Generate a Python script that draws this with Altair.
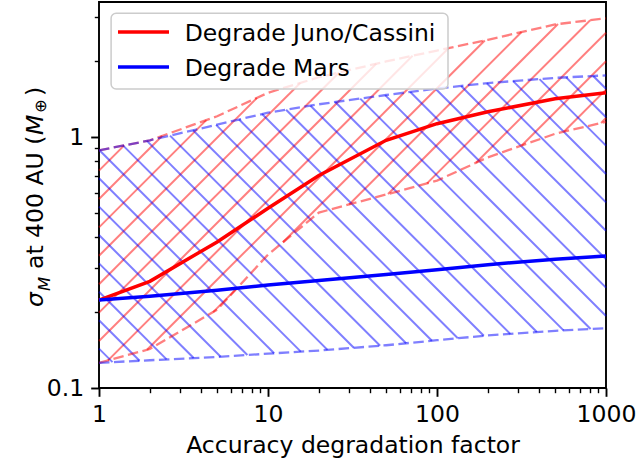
import altair as alt
import numpy as np
import pandas as pd

# ---------------- data ----------------
x_vals = [1, 2, 5, 10, 20, 50, 100, 200, 500, 1000]
juno_mid = [0.224, 0.266, 0.382, 0.52, 0.703, 0.97, 1.13, 1.26, 1.42, 1.50]
juno_low = [0.126, 0.143, 0.205, 0.34, 0.50, 0.59, 0.67, 0.83, 1.03, 1.15]
juno_up = [0.885, 0.97, 1.21, 1.50, 1.73, 2.0, 2.21, 2.44, 2.81, 2.97]
mars_mid = [0.224, 0.232, 0.245, 0.257, 0.268, 0.283, 0.296, 0.31, 0.326, 0.336]
mars_low = [0.126, 0.129, 0.133, 0.137, 0.141, 0.148, 0.155, 0.162, 0.169, 0.173]
mars_up = [0.885, 0.97, 1.12, 1.25, 1.35, 1.47, 1.56, 1.64, 1.72, 1.76]
series_names = ["Degrade Juno/Cassini", "Degrade Mars"]
x_ticks = [1, 2, 3, 4, 5, 6, 7, 8, 9, 10, 20, 30, 40, 50, 60, 70, 80, 90,
           100, 200, 300, 400, 500, 600, 700, 800, 900, 1000]
y_ticks = [0.1, 0.2, 0.3, 0.4, 0.5, 0.6, 0.7, 0.8, 0.9, 1, 2, 3]
x_title = "Accuracy degradation factor"
y_title_parts = ["σ", "M", "at 400 AU (", "M", "⊕", ")"]

# ---------------- geometry / style ----------------
W, H = 507, 386
PAD_L, PAD_T, PAD_R, PAD_B = 99, 2, 32, 72
X_MIN, X_MAX = 1, 1000
Y_MIN = 0.1
DX = W / np.log10(X_MAX / X_MIN)
DY = 251.0
Y_MAX = Y_MIN * 10 ** (H / DY)
FONT = "DejaVu Sans"
FS = 23.5
RED, BLUE = "#ff0000", "#0000ff"
HATCH_STEP = 28.4

DECADE = "abs(log(datum.value)/LN10 - round(log(datum.value)/LN10)) < 0.001"


def to_uv(xs, ys):
    u = DX * np.log10(np.asarray(xs, float) / X_MIN)
    v = H - DY * np.log10(np.asarray(ys, float) / Y_MIN)
    return u, v


def hatch_segments(lo, hi, kind, phase):
    """Hatch lines (45 deg on screen) clipped to the band between lo and hi."""
    un, vlo = to_uv(x_vals, lo)
    _, vhi = to_uv(x_vals, hi)
    u = np.linspace(0, W, 20001)
    blo = np.interp(u, un, vlo)
    bhi = np.interp(u, un, vhi)
    segs = []
    if kind == "/":
        off = phase - PAD_L - PAD_T  # page x + page y = c
        cmin, cmax = 0, W + H
    else:
        off = phase - PAD_L + PAD_T  # page x - page y = c
        cmin, cmax = -H, W
    k0 = int(np.floor((cmin - off) / HATCH_STEP)) - 1
    k1 = int(np.ceil((cmax - off) / HATCH_STEP)) + 1
    for k in range(k0, k1 + 1):
        c = off + k * HATCH_STEP
        v = c - u if kind == "/" else u - c
        inside = (v >= bhi) & (v <= blo) & (v >= 0) & (v <= H)
        if not inside.any():
            continue
        d = np.diff(np.concatenate([[0], inside.astype(int), [0]]))
        starts = np.where(d == 1)[0]
        ends = np.where(d == -1)[0] - 1
        for s, e in zip(starts, ends):
            if e <= s:
                continue
            segs.append((u[s], v[s], u[e], v[e]))
    segs = np.array(segs)
    x1 = X_MIN * 10 ** (segs[:, 0] / DX)
    y1 = Y_MIN * 10 ** ((H - segs[:, 1]) / DY)
    x2 = X_MIN * 10 ** (segs[:, 2] / DX)
    y2 = Y_MIN * 10 ** ((H - segs[:, 3]) / DY)
    return pd.DataFrame({"x": x1, "y": y1, "x2": x2, "y2": y2})


# ---------------- scales / axes ----------------
xs = alt.Scale(type="log", domain=[X_MIN, X_MAX], nice=False)
ys = alt.Scale(type="log", domain=[Y_MIN, Y_MAX], nice=False)

common_axis = dict(
    domain=False, grid=False, tickColor="black", labelColor="black",
    labelFont=FONT, labelFontSize=FS, titleFont=FONT, titleFontSize=FS,
    titleColor="black", titleFontWeight="normal", labelOverlap=False,
    labelFlush=False, labelBound=False,
    tickSize={"condition": {"test": DECADE, "value": 8.3}, "value": 4.7},
    tickWidth={"condition": {"test": DECADE, "value": 1.9}, "value": 1.4},
    labelExpr=DECADE + " ? format(datum.value, '~g') : ''",
)
xax = alt.Axis(values=x_ticks, title=x_title, labelPadding=6, titlePadding=8, **common_axis)
yax = alt.Axis(values=y_ticks, title=None, labelPadding=7, **common_axis)

X = alt.X("x:Q", scale=xs, axis=xax)
Y = alt.Y("y:Q", scale=ys, axis=yax)

# ---------------- layers ----------------
red_hatch = alt.Chart(hatch_segments(juno_low, juno_up, "/", 14)).mark_rule(
    color=RED, strokeOpacity=0.5, strokeWidth=2.0
).encode(x=X, y=Y, x2="x2:Q", y2="y2:Q")

blue_hatch = alt.Chart(hatch_segments(mars_low, mars_up, "\\", 6)).mark_rule(
    color=BLUE, strokeOpacity=0.5, strokeWidth=2.0
).encode(x=X, y=Y, x2="x2:Q", y2="y2:Q")


def edges(lo, hi):
    return pd.DataFrame({
        "x": x_vals + x_vals,
        "y": list(lo) + list(hi),
        "edge": ["low"] * len(x_vals) + ["up"] * len(x_vals),
    })


DASH = [10.5, 4.5]
red_edges = alt.Chart(edges(juno_low, juno_up)).mark_line(
    color=RED, strokeOpacity=0.5, strokeWidth=2.3, strokeDash=DASH
).encode(x=X, y=Y, detail="edge:N")

blue_edges = alt.Chart(edges(mars_low, mars_up)).mark_line(
    color=BLUE, strokeOpacity=0.5, strokeWidth=2.3, strokeDash=DASH
).encode(x=X, y=Y, detail="edge:N")

main_df = pd.DataFrame({
    "x": x_vals + x_vals,
    "y": juno_mid + mars_mid,
    "series": [series_names[0]] * len(x_vals) + [series_names[1]] * len(x_vals),
})
color_scale = alt.Scale(domain=series_names, range=[RED, BLUE])
main_lines = alt.Chart(main_df).mark_line(strokeWidth=3.5).encode(
    x=X, y=Y, color=alt.Color("series:N", scale=color_scale, legend=None),
)

# ---------------- legend (upper left, matplotlib style) ----------------
# plot-area pixel layout of the legend box
LEG_X0, LEG_X1, LEG_Y0, LEG_Y1 = 12.1, 349, 11.3, 87
ROW_Y = [30, 65]
leg_frame = alt.Chart(pd.DataFrame({"k": [0]})).mark_rect(
    fill="white", fillOpacity=0.8, stroke="#cccccc", strokeWidth=1.5, cornerRadius=5
).encode(x=alt.value(LEG_X0), x2=alt.value(LEG_X1), y=alt.value(LEG_Y0), y2=alt.value(LEG_Y1))

leg_layers = [leg_frame]
for name, ry in zip(series_names, ROW_Y):
    df1 = pd.DataFrame({"series": [name]})
    leg_layers.append(
        alt.Chart(df1).mark_rule(strokeWidth=3.5).encode(
            x=alt.value(19), x2=alt.value(70), y=alt.value(ry),
            color=alt.Color("series:N", scale=color_scale, legend=None),
        )
    )
    leg_layers.append(
        alt.Chart(df1).mark_text(
            align="left", baseline="alphabetic", font=FONT, fontSize=FS, color="black"
        ).encode(text="series:N", x=alt.value(85.7), y=alt.value(ry + 8.6))
    )

# ---------------- y-axis title built from pieces (math-style subscripts) ----------------
# (page_x_baseline, page_y_start, size, italic)
piece_style = [
    (43.3, 307, FS, True),
    (49.5, 291, FS * 0.7, True),
    (43.3, 269, FS, False),
    (43.3, 135, FS, True),
    (46.0, 113, FS * 0.7, False),
    (43.3, 96, FS, False),
]
title_layers = []
for txt, (bx, sy, size, ital) in zip(y_title_parts, piece_style):
    title_layers.append(
        alt.Chart(pd.DataFrame({"t": [txt]})).mark_text(
            angle=270, align="left", baseline="alphabetic", font=FONT,
            fontSize=size, fontStyle="italic" if ital else "normal", color="black",
        ).encode(text="t:N", x=alt.value(bx - PAD_L), y=alt.value(sy - PAD_T))
    )

chart = alt.layer(
    red_hatch, blue_hatch, red_edges, blue_edges, main_lines, *title_layers, *leg_layers
).properties(
    width=W, height=H,
    autosize=alt.AutoSizeParams(type="none"),
    padding={"left": PAD_L, "top": PAD_T, "right": PAD_R, "bottom": PAD_B},
    background="white",
).configure_view(
    stroke="black", strokeWidth=1.9
)

chart.save("out.html", embed_options={"renderer": "svg", "actions": False})
